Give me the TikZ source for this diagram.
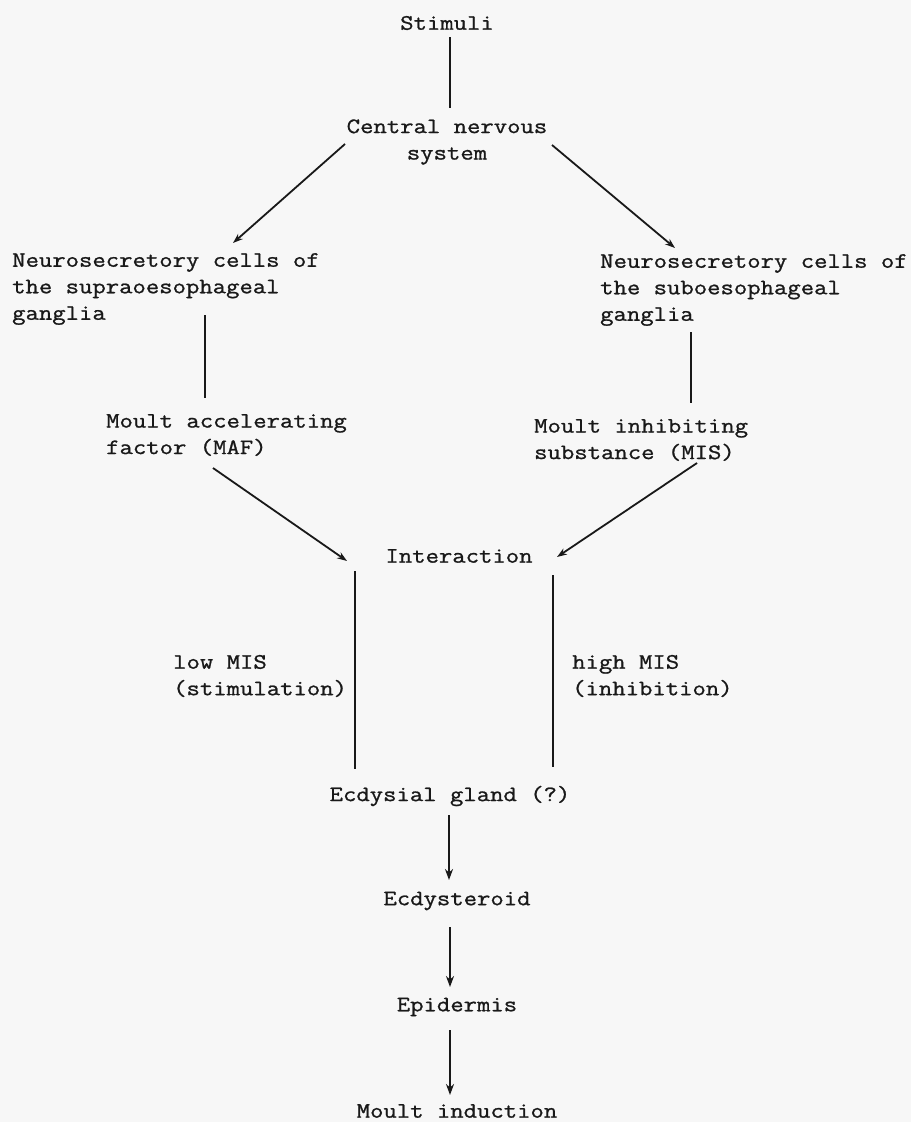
\documentclass[tikz,border=0pt]{standalone}
\usepackage{fontspec}
\newfontfamily\tw{Latin Modern Mono}[FakeStretch=1.18,FakeBold=1]
\usetikzlibrary{arrows.meta}
\begin{document}
\begin{tikzpicture}[x=1pt,y=-1pt,
  lbl/.style={inner sep=0pt,font=\tw\fontsize{22}{26.5}\selectfont,text=black!90},
  conn/.style={draw=black!90,line width=1.8pt},
  arr/.style={conn,-{Stealth[length=10pt,width=7pt]}},
  thickarr/.style={draw=black!90,line width=2.4pt,-{Stealth[length=11pt,width=8pt]}}]
\path[use as bounding box,fill=black!3] (0,0) rectangle (911,1122);
% nodes
\node[lbl] (stim) at (447,23) {Stimuli};
\node[lbl,align=center] (cns) at (447,142) {Central nervous\\system};
\node[lbl,align=left,anchor=west] (neuL) at (12,289) {Neurosecretory cells of\\the supraoesophageal\\ganglia};
\node[lbl,align=left,anchor=west] (neuR) at (600,290) {Neurosecretory cells of\\the suboesophageal\\ganglia};
\node[lbl,align=left,anchor=west] (maf) at (106,435) {Moult accelerating\\factor (MAF)};
\node[lbl,align=left,anchor=west] (mis) at (534,440) {Moult inhibiting\\substance (MIS)};
\node[lbl] (inter) at (459,556) {Interaction};
\node[lbl,align=left,anchor=west] (low) at (173,676) {low MIS\\(stimulation)};
\node[lbl,align=left,anchor=west] (high) at (572,676) {high MIS\\(inhibition)};
\node[lbl] (ecg) at (450,796) {Ecdysial gland (?)};
\node[lbl] (ecy) at (457,901) {Ecdysteroid};
\node[lbl] (epi) at (457,1007) {Epidermis};
\node[lbl] (moult) at (457,1111) {Moult induction};
% connector end points
\coordinate (s1) at (450,37);   \coordinate (s2) at (450,108);
\coordinate (cl1) at (345,144); \coordinate (cl2) at (233,243);
\coordinate (cr1) at (552,145); \coordinate (cr2) at (675,248);
\coordinate (nl1) at (205,315); \coordinate (nl2) at (205,398);
\coordinate (nr1) at (691,332); \coordinate (nr2) at (691,403);
\coordinate (ml1) at (213,468); \coordinate (ml2) at (347,561);
\coordinate (mr1) at (697,463); \coordinate (mr2) at (557,557);
\coordinate (il1) at (355,571); \coordinate (il2) at (355,769);
\coordinate (ir1) at (553,575); \coordinate (ir2) at (553,767);
\coordinate (g1) at (449,815);  \coordinate (g2) at (449,880);
\coordinate (e1) at (450,927);  \coordinate (e2) at (450,987);
\coordinate (p1) at (450,1030); \coordinate (p2) at (450,1095);
% connectors
\draw[conn] (s1) -- (s2);
\draw[arr] (cl1) -- (cl2);
\draw[arr] (cr1) -- (cr2);
\draw[conn] (nl1) -- (nl2);
\draw[conn] (nr1) -- (nr2);
\draw[arr] (ml1) -- (ml2);
\draw[arr] (mr1) -- (mr2);
\draw[conn] (il1) -- (il2);
\draw[conn] (ir1) -- (ir2);
\draw[thickarr] (g1) -- (g2);
\draw[thickarr] (e1) -- (e2);
\draw[thickarr] (p1) -- (p2);
\end{tikzpicture}
\end{document}
